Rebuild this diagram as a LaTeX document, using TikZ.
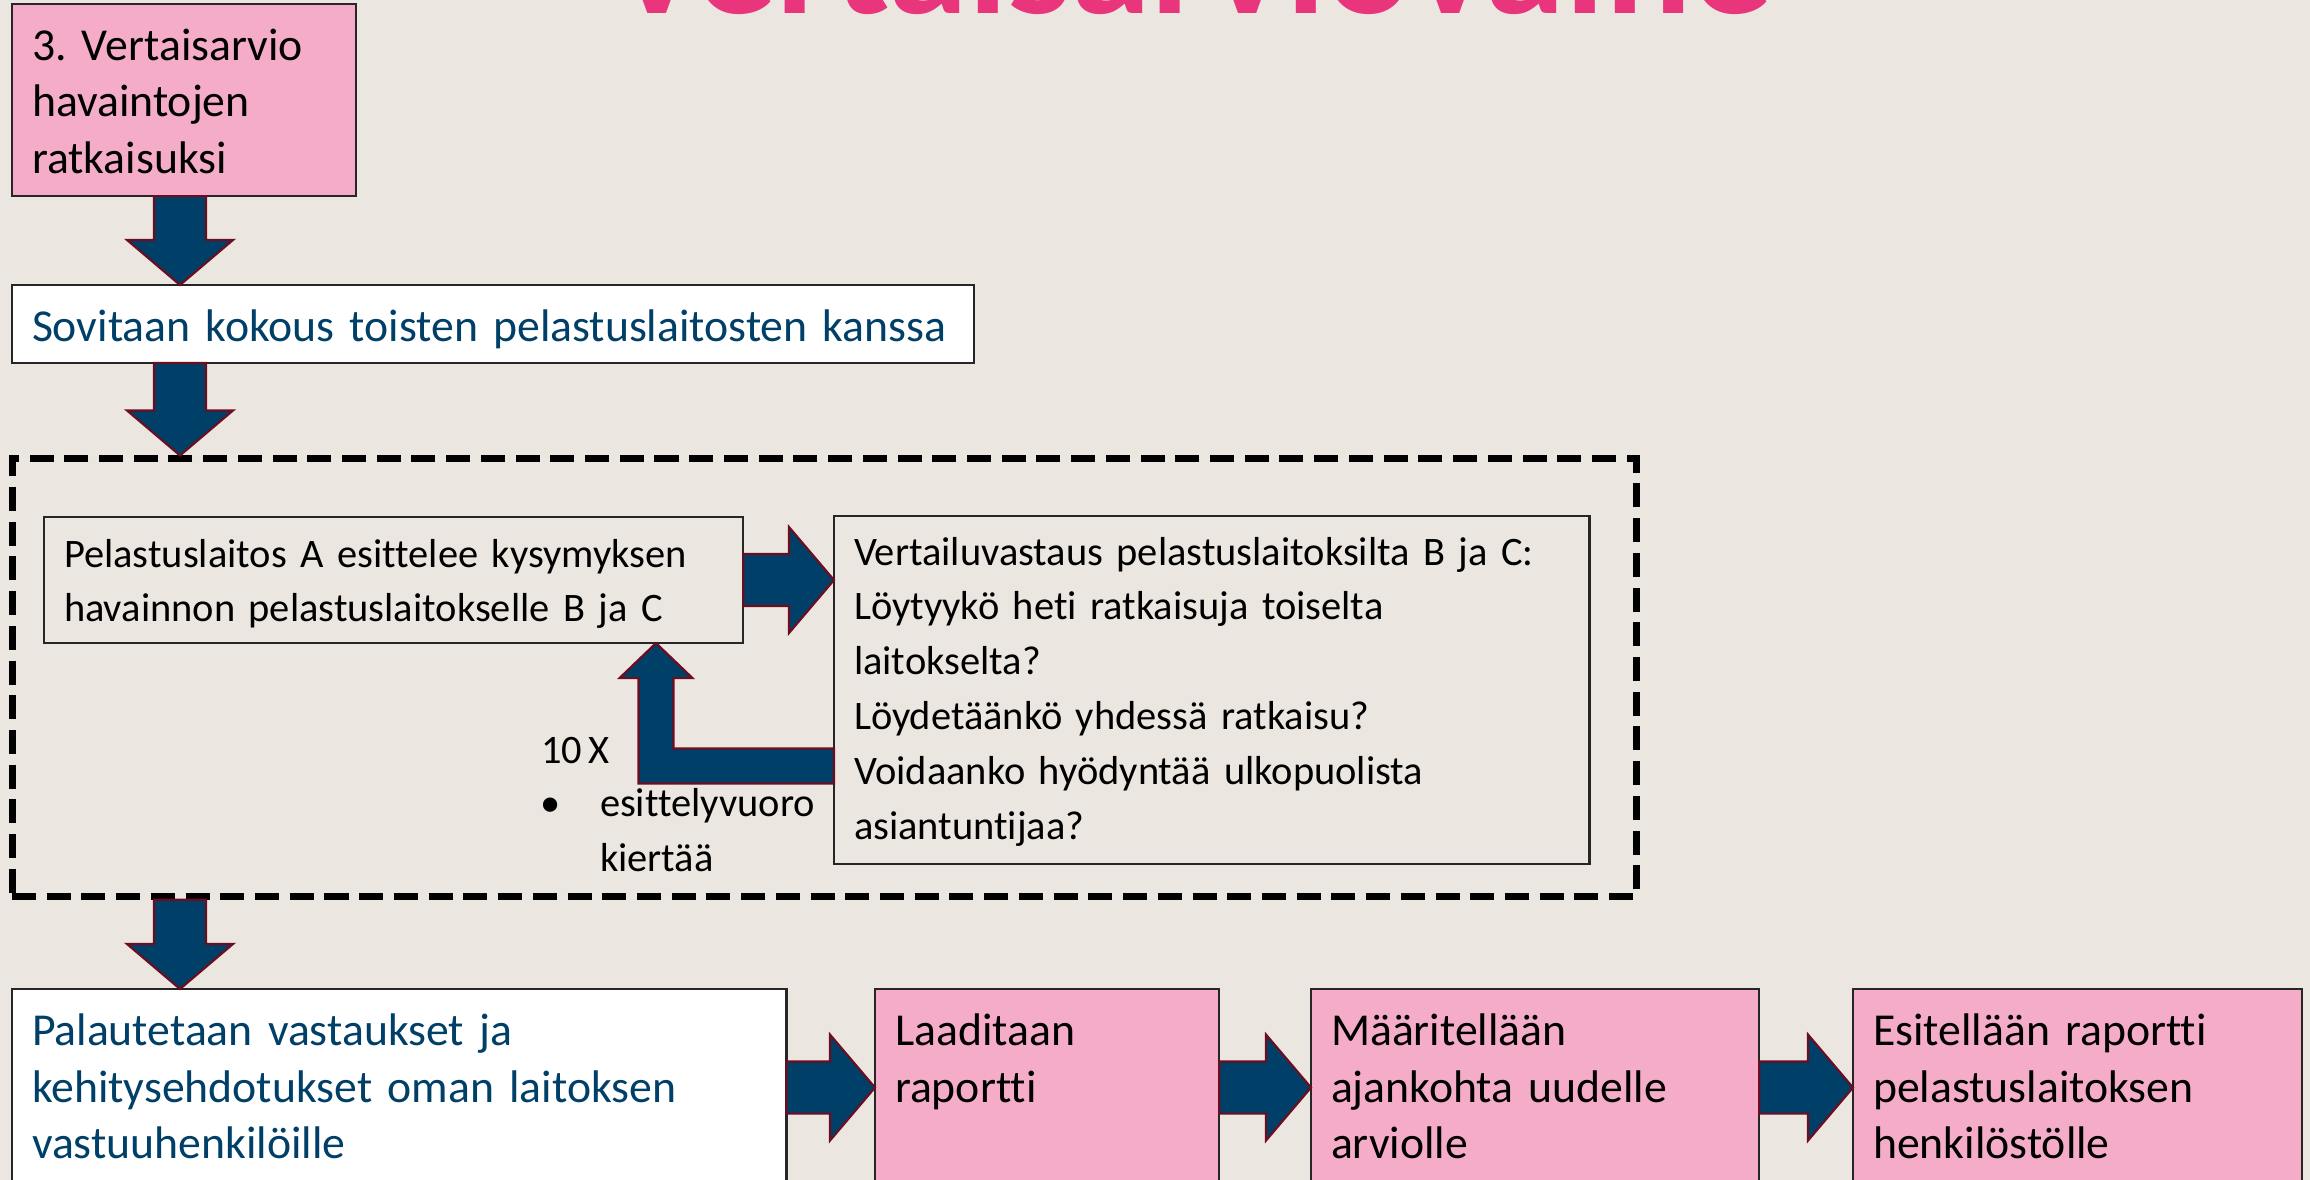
\documentclass[tikz,border=0pt]{standalone}
\usepackage{fontspec}
\setmainfont{Carlito}[Ligatures=NoCommon, WordSpace=0.7]
\frenchspacing
\usetikzlibrary{calc}
\definecolor{paper}{RGB}{235,231,224}
\definecolor{rose}{RGB}{245,172,201}
\definecolor{navy}{RGB}{0,64,104}
\definecolor{rim}{RGB}{110,12,32}
\definecolor{headpink}{RGB}{233,53,124}
\tikzset{
x=0.01cm, y=-0.01cm, % one unit is one pixel of the slide, y grows downwards
every node/.style={inner xsep=0.2cm, inner ysep=0pt, outer sep=0pt, align=left}, % text starts a bit in from the border
stepbox/.style={draw=black!85, line width=0.6pt, anchor=north west, font=\fontsize{13pt}{16.2pt}\selectfont, text height=0.56cm}, % text height puts the first baseline
pinkbox/.style={stepbox, fill=rose},
whitebox/.style={stepbox, fill=white, text=navy},
innerbox/.style={stepbox, font=\fontsize{11.5pt}{15.6pt}\selectfont, text height=0.50cm}, % smaller text inside the dashed frame
note/.style={anchor=base west, inner sep=0pt, font=\fontsize{11.5pt}{15.6pt}\selectfont},
title/.style={anchor=base west, inner sep=0pt, text=headpink, font=\fontsize{45.8pt}{46pt}\selectfont\bfseries},
dashframe/.style={draw=black, line width=0.07cm, dash pattern=on 0.24cm off 0.107cm, anchor=north west, inner sep=0pt, outer sep=0.035cm},
blockarrow/.style={fill=navy, draw=rim, line width=0.6pt, line join=miter},
down arrow/.style={blockarrow, to path={let \p1=(\tikztostart), \p2=(\tikztotarget) in
  (\x1-0.26cm,\y1) -- (\x1-0.26cm,\y2+0.45cm) -- (\x1-0.53cm,\y2+0.45cm) -- (\x1,\y2)
  -- (\x1+0.53cm,\y2+0.45cm) -- (\x1+0.26cm,\y2+0.45cm) -- (\x1+0.26cm,\y1) -- cycle}},
right arrow/.style={blockarrow, to path={let \p1=(\tikztostart), \p2=(\tikztotarget) in
  (\x1,\y1+0.26cm) -- (\x2-0.45cm,\y1+0.26cm) -- (\x2-0.45cm,\y1+0.53cm) -- (\x2,\y1)
  -- (\x2-0.45cm,\y1-0.53cm) -- (\x2-0.45cm,\y1-0.26cm) -- (\x1,\y1-0.26cm) -- cycle}},
bent arrow/.style={blockarrow, to path={let \p1=(\tikztostart), \p2=(\tikztotarget) in
  (\x1,\y1+0.175cm) -- (\x2+0.175cm,\y1+0.175cm) -- (\x2+0.175cm,\y2-0.35cm) -- (\x2+0.365cm,\y2-0.35cm) -- (\x2,\y2)
  -- (\x2-0.365cm,\y2-0.35cm) -- (\x2-0.175cm,\y2-0.35cm) -- (\x2-0.175cm,\y1-0.175cm) -- (\x1,\y1-0.175cm) -- cycle}},
}

\begin{document}
\begin{tikzpicture}

\useasboundingbox (0,0) rectangle (2310,1180);
\clip (0,0) rectangle (2310,1180);
\fill[paper] (0,0) rectangle (2310,1180);

\node[title] at (609, 14) (heading) {Vertaisarviovaihe};

\node[pinkbox, text width=3.04cm, text depth=1.36cm] at (12, 4) (propose) {3. Vertaisarvio\\havaintojen\\ratkaisuksi};
\node[whitebox, text width=9.21cm, text depth=0.22cm] at (12, 285) (meet) {Sovitaan kokous toisten pelastuslaitosten kanssa};

\node[dashframe, minimum width=16.24cm, minimum height=4.37cm] at (8.5, 455.5) (round) {};
\node[innerbox, text width=6.59cm, text depth=0.76cm] at (44, 517) (pres) {Pelastuslaitos A esittelee kysymyksen\\havainnon pelastuslaitokselle B ja C};
\node[innerbox, text width=7.15cm, text height=0.49cm, text depth=2.99cm] at (834, 516) (ask) {Vertailuvastaus pelastuslaitoksilta B ja C:\\Löytyykö heti ratkaisuja toiselta\\laitokselta?\\Löydetäänkö yhdessä ratkaisu?\\Voidaanko hyödyntää ulkopuolista\\asiantuntijaa?};
\node[note] at (541, 763) (times) {10 X};
\node[note] at (540, 817) (dot) {•};
\node[note, text width=1.7cm] at (600, 817) (turn) {esittelyvuoro\\kiertää};

\node[whitebox, text width=7.34cm, text depth=1.41cm] at (12, 989) (ret) {Palautetaan vastaukset ja\\kehitysehdotukset oman laitoksen\\vastuuhenkilöille};
\node[pinkbox, text width=3.04cm, text depth=1.41cm] at (875, 989) (report) {Laaditaan\\raportti};
\node[pinkbox, text width=4.08cm, text depth=1.41cm] at (1311, 989) (date) {Määritellään\\ajankohta uudelle\\arviolle};
\node[pinkbox, text width=4.09cm, text depth=1.41cm] at (1853, 989) (show) {Esitellään raportti\\pelastuslaitoksen\\henkilöstölle};

\coordinate (col) at (180, 0);
\coordinate (back) at (656, 766);

\path (propose.south -| col) edge[down arrow] (meet.north -| col);
\path (meet.south -| col) edge[down arrow] (round.north -| col);
\path (round.south -| col) edge[down arrow] (ret.north -| col);
\path (pres.east) edge[right arrow] (pres.east -| ask.west);
\path (ask.west |- back) edge[bent arrow] (pres.south -| back);
\path (ret.east) edge[right arrow] (report.west);
\path (report.east) edge[right arrow] (date.west);
\path (date.east) edge[right arrow] (show.west);

\end{tikzpicture}
\end{document}
